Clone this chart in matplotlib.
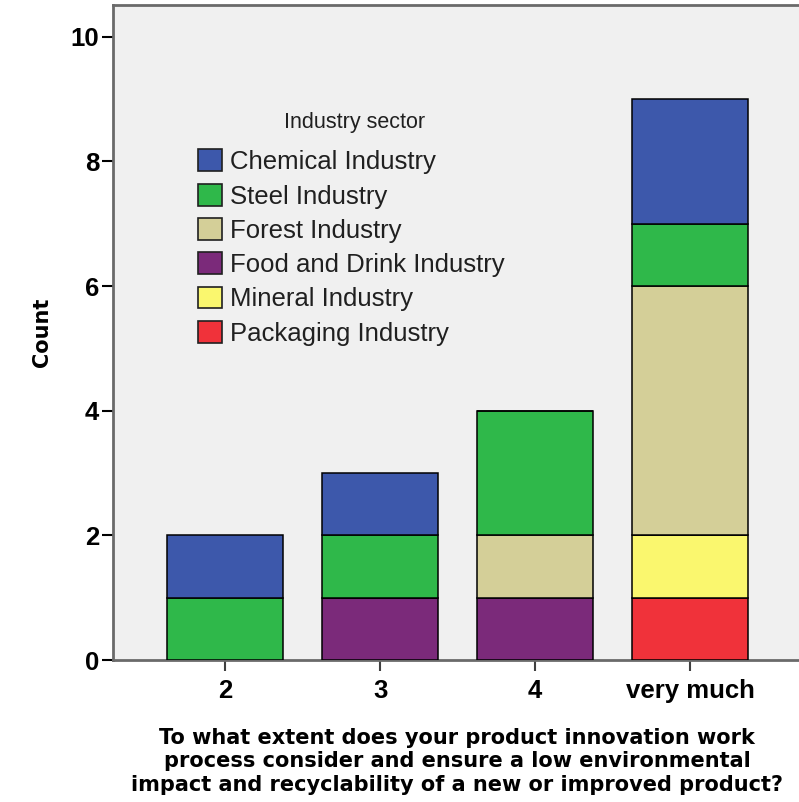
import numpy as np
import matplotlib.pyplot as plt
from matplotlib.patches import Patch

plt.rcParams['font.family'] = ['Liberation Sans', 'DejaVu Sans']

categories = ['2', '3', '4', 'very much']
# stacked bottom to top
sectors = ['Packaging Industry', 'Mineral Industry', 'Food and Drink Industry',
           'Forest Industry', 'Steel Industry', 'Chemical Industry']
packaging = [0, 0, 0, 1]
mineral = [0, 0, 0, 1]
food = [0, 1, 1, 0]
forest = [0, 0, 1, 4]
steel = [1, 1, 2, 1]
chemical = [1, 1, 0, 2]
colors = ['#F0323A', '#FAF76E', '#7B2A7A', '#D4CF98', '#2FB84A', '#3D58AB']

series = [packaging, mineral, food, forest, steel, chemical]

fig = plt.figure(figsize=(7.99, 8.02), dpi=100)
ax = fig.add_axes([113 / 799, 1 - 660 / 802, 1 - 113 / 799, 655 / 802])
ax.set_facecolor('#F0F0F0')

x = np.arange(len(categories))
bottom = np.zeros(len(categories))
for vals, col in zip(series, colors):
    vals = np.array(vals, dtype=float)
    ax.bar(x, vals, width=0.75, bottom=bottom, color=col,
           edgecolor='black', linewidth=1.1, zorder=3)
    bottom += vals

ax.set_xlim(-0.723, 3.703)
ax.set_ylim(0, 10.51)
ax.set_yticks([0, 2, 4, 6, 8, 10])
ax.set_xticks(x)
ax.set_xticklabels(categories)

for s in ['left', 'top', 'bottom']:
    ax.spines[s].set_color('#6A6A6A')
    ax.spines[s].set_linewidth(2)
ax.spines['right'].set_visible(False)

ax.tick_params(axis='y', length=8, width=1.5, color='black', pad=2,
               labelsize=18.5)
ax.tick_params(axis='x', length=8, width=1.5, color='#404040', pad=6,
               labelsize=18.5)
for lab in ax.get_xticklabels() + ax.get_yticklabels():
    lab.set_fontweight('bold')

ax.set_ylabel('Count', fontsize=15, fontweight='bold', family='DejaVu Sans')
ax.yaxis.set_label_coords(-0.103, 0.5)
ax.yaxis.label.set_verticalalignment('center')

ax.set_xlabel('To what extent does your product innovation work\n'
              'process consider and ensure a low environmental\n'
              'impact and recyclability of a new or improved product?',
              fontsize=15, fontweight='bold', family='DejaVu Sans',
              linespacing=1.2)
ax.xaxis.set_label_coords(0.5015, -0.104)
ax.xaxis.label.set_verticalalignment('top')

handles = [Patch(facecolor=c, edgecolor='#202020', linewidth=1.2, label=l)
           for l, c in zip(sectors[::-1], colors[::-1])]
leg = ax.legend(handles=handles, frameon=False,
                loc='upper left', bbox_to_anchor=(0.124, 0.7794),
                fontsize=18.5, handlelength=0.93,
                handleheight=0.93, handletextpad=0.31, labelspacing=0.37,
                borderaxespad=0, borderpad=0)
for t in leg.get_texts():
    t.set_color('#202020')
ax.text(0.352, 0.82, 'Industry sector', transform=ax.transAxes,
        ha='center', va='center', fontsize=15.5, color='#202020')

fig.savefig('out.png', dpi=100)
